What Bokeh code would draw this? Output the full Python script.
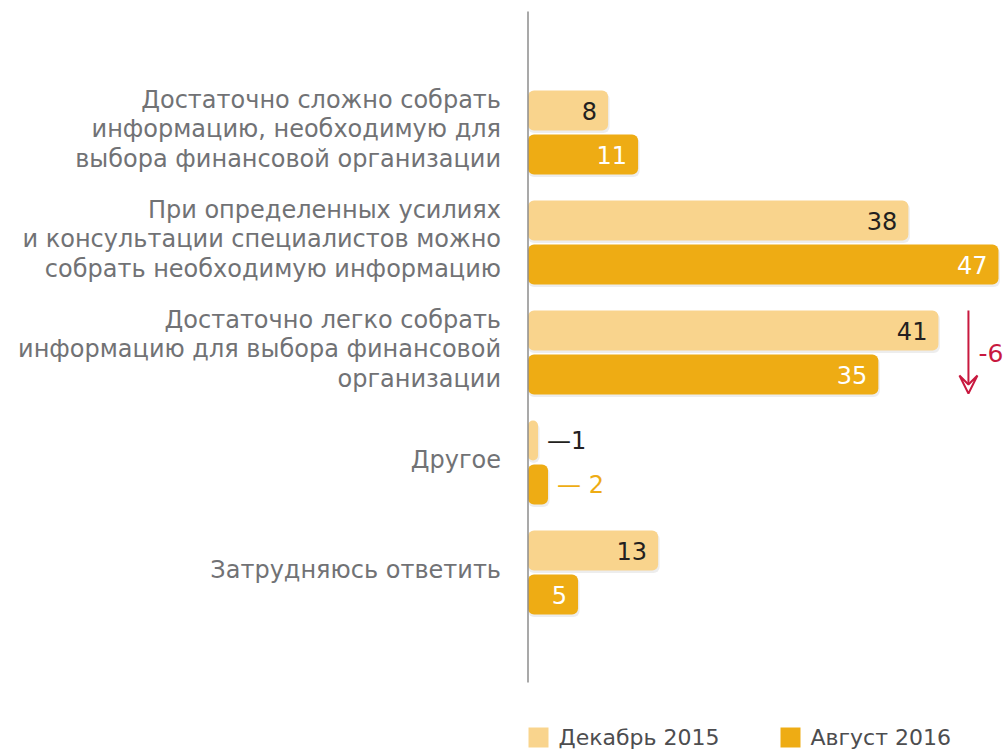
from bokeh.plotting import figure
from bokeh.models import ColumnDataSource, Range1d, Arrow, VeeHead
from bokeh.core.properties import value
from bokeh.embed import file_html
from bokeh.resources import INLINE

categories = [
    "Достаточно сложно собрать\nинформацию, необходимую для\nвыбора финансовой организации",
    "При определенных усилиях\nи консультации специалистов можно\nсобрать необходимую информацию",
    "Достаточно легко собрать\nинформацию для выбора финансовой\nорганизации",
    "Другое",
    "Затрудняюсь ответить",
]
dec2015 = [8, 38, 41, 1, 13]
aug2016 = [11, 47, 35, 2, 5]
series_names = ["Декабрь 2015", "Август 2016"]
change_label = "-6"

LIGHT = "#F9D48D"
DARK = "#EEAC14"
GRAY = "#717275"
RED = "#C8193F"
FONT = value("DejaVu Sans")

W, H = 1008, 750
PX_X = 10.01          # pixels per percent
X0 = 527.5            # canvas x of zero
PX_Y = 110.0          # pixels per category
Y0 = 132.0            # canvas y of first category

p = figure(width=W, height=H, output_backend="svg", toolbar_location=None,
           x_range=Range1d(-X0 / PX_X, (W - X0) / PX_X),
           y_range=Range1d((H - Y0) / PX_Y, -Y0 / PX_Y),
           min_border=0, x_axis_location=None, y_axis_location=None,
           outline_line_color=None, background_fill_color="white")
p.xgrid.visible = False
p.ygrid.visible = False

idx = list(range(len(categories)))
off = 22 / PX_Y
bh = 40 / PX_Y
pad = 11 / PX_X

src = ColumnDataSource(dict(
    idx=idx, cat=categories, dec=dec2015, aug=aug2016,
    ydec=[i - off for i in idx], yaug=[i + off for i in idx],
))

# soft shadows
sh = ColumnDataSource(dict(
    ydec=[i - off + 2.5 / PX_Y for i in idx], yaug=[i + off + 2.5 / PX_Y for i in idx],
    dec=[v + 1.5 / PX_X for v in dec2015], aug=[v + 1.5 / PX_X for v in aug2016],
))
p.hbar(y="ydec", left=0, right="dec", height=bh, source=sh, fill_color="#000000",
       fill_alpha=0.07, line_color=None, border_radius=6)
p.hbar(y="yaug", left=0, right="aug", height=bh, source=sh, fill_color="#000000",
       fill_alpha=0.07, line_color=None, border_radius=6)

p.hbar(y="ydec", left=0, right="dec", height=bh, source=src, fill_color=LIGHT,
       line_color=None, border_radius=6)
p.hbar(y="yaug", left=0, right="aug", height=bh, source=src, fill_color=DARK,
       line_color=None, border_radius=6)

# axis line
p.segment(x0=[0], y0=[(11 - Y0) / PX_Y], x1=[0], y1=[(682 - Y0) / PX_Y],
          line_color="#8C8C8C", line_width=1.5)

# value labels inside bars
inside_dec = [i for i in idx if dec2015[i] >= 5]
inside_aug = [i for i in idx if aug2016[i] >= 5]
p.text(x=[dec2015[i] - pad for i in inside_dec], y=[i - off for i in inside_dec],
       text=[str(dec2015[i]) for i in inside_dec], text_align="right",
       text_baseline="middle", text_font=FONT, text_font_size="24px", text_color="#231F20")
p.text(x=[aug2016[i] - pad for i in inside_aug], y=[i + off for i in inside_aug],
       text=[str(aug2016[i]) for i in inside_aug], text_align="right",
       text_baseline="middle", text_font=FONT, text_font_size="24px", text_color="white")

# small values outside with dash
out_dec = [i for i in idx if dec2015[i] < 5]
out_aug = [i for i in idx if aug2016[i] < 5]
p.text(x=[dec2015[i] + 9 / PX_X for i in out_dec], y=[i - off for i in out_dec],
       text=["—" + str(dec2015[i]) for i in out_dec], text_align="left",
       text_baseline="middle", text_font=FONT, text_font_size="24px", text_color="#231F20")
p.text(x=[aug2016[i] + 9 / PX_X for i in out_aug], y=[i + off for i in out_aug],
       text=["— " + str(aug2016[i]) for i in out_aug], text_align="left",
       text_baseline="middle", text_font=FONT, text_font_size="24px", text_color=DARK)

# category labels
p.text(x=-27 / PX_X, y=[i - 3 / PX_Y for i in idx], text=categories, text_align="right",
       text_baseline="middle", text_font=FONT, text_font_size="24px", text_color=GRAY,
       text_line_height=1.06)

# change arrow for third category
k = 2
ax = max(dec2015[k], aug2016[k]) + 3
p.add_layout(Arrow(end=VeeHead(size=18, line_color=RED, line_width=2, fill_color=None),
                   x_start=ax, y_start=k - off - bh / 2, x_end=ax, y_end=k + off + bh / 2 - 1 / PX_Y,
                   line_color=RED, line_width=2))
p.text(x=[ax + 10 / PX_X], y=[k], text=[change_label], text_align="left",
       text_baseline="middle", text_font=FONT, text_font_size="25px", text_color=RED)

# legend
ly = (737 - Y0) / PX_Y
lx = [(538 - X0) / PX_X, (790 - X0) / PX_X]
p.rect(x=lx, y=[ly, ly], width=20, height=20, width_units="screen", height_units="screen",
       fill_color=[LIGHT, DARK], line_color=None)
p.text(x=[v + 20 / PX_X for v in lx], y=[ly, ly], text=series_names, text_align="left",
       text_baseline="middle", text_font=FONT, text_font_size="22px", text_color="#4D4D4F")

open("out.html", "w").write(file_html(p, INLINE))
